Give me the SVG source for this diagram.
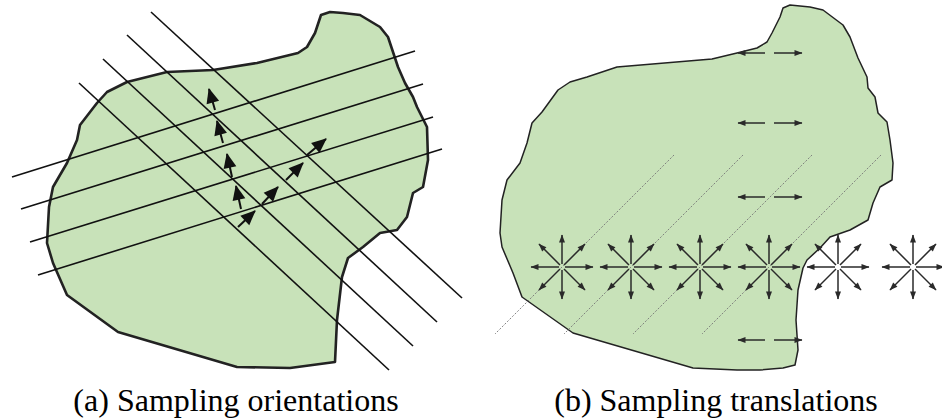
<svg xmlns="http://www.w3.org/2000/svg" width="942" height="420" viewBox="0 0 942 420">
<defs>
<style>
.blobA{fill:#c8e2b9;stroke:#222;stroke-width:2.6;stroke-linejoin:round}
.blobB{fill:#c8e2b9;stroke:#222;stroke-width:1.5;stroke-linejoin:round}
.ln{stroke:#111;stroke-width:1.6;fill:none}
.arA{stroke:#111;stroke-width:2;fill:none;marker-end:url(#hA)}
.dot{stroke:#777;stroke-width:0.9;stroke-dasharray:2 1.6;fill:none}
.ar{stroke:#2a2a2a;stroke-width:1.5;fill:none;marker-end:url(#hB)}
.cap{font-family:'Liberation Serif',serif;font-size:32px;fill:#000;text-anchor:middle}
</style>
<marker id="hA" markerWidth="16" markerHeight="14" refX="14" refY="6.5" markerUnits="userSpaceOnUse" orient="auto" overflow="visible"><path d="M0,0 L15,6.5 L0,13 z" fill="#111"/></marker>
<marker id="hB" markerWidth="9" markerHeight="7" refX="7.5" refY="3" markerUnits="userSpaceOnUse" orient="auto" overflow="visible"><path d="M0,0 L8,3 L0,6 z" fill="#2a2a2a"/></marker>
<g id="star"><line class="ar" x1="3" y1="0" x2="31" y2="0"/><line class="ar" x1="-3" y1="0" x2="-31" y2="0"/><line class="ar" x1="0" y1="-3" x2="0" y2="-32"/><line class="ar" x1="0" y1="3" x2="0" y2="32"/><line class="ar" x1="2" y1="-2" x2="23" y2="-23"/><line class="ar" x1="-2" y1="-2" x2="-23" y2="-23"/><line class="ar" x1="2" y1="2" x2="23" y2="23"/><line class="ar" x1="-2" y1="2" x2="-23" y2="23"/></g>
<g id="dbl"><line class="ar" x1="-5" y1="0" x2="-32" y2="0"/><line class="ar" x1="4" y1="0" x2="32" y2="0"/></g>
</defs>

<g id="panel-a">
<path id="blob-a" class="blobA" d="M330,12 L321,15 L315,33 L307,47 L298,53 L257,63 L213,70 L167,72 L127,82 L107,92 L97,103 L80,125 L77,140 L67,163 L53,187 L49,207 L47,243 L53,263 L67,295 L118,332 L237,367 L290,368 L335,362 L337,320 L342,277 L348,258 L363,247 L380,233 L397,230 L407,217 L413,193 L423,187 L428,160 L427,127 L417,107 L413,97 L405,83 L398,67 L388,37 L380,27 L360,15 L343,13 Z"/>
<g id="lines-a">
<line class="ln" x1="151" y1="12" x2="462" y2="298"/>
<line class="ln" x1="127" y1="35" x2="437" y2="322"/>
<line class="ln" x1="103" y1="59" x2="413" y2="346"/>
<line class="ln" x1="79" y1="83" x2="389" y2="370"/>
<line class="ln" x1="12" y1="177" x2="415" y2="51"/>
<line class="ln" x1="21" y1="209" x2="423" y2="84"/>
<line class="ln" x1="30" y1="242" x2="433" y2="117"/>
<line class="ln" x1="38" y1="275" x2="442" y2="149"/>
</g>
<g id="arrows-a">
<line class="arA" x1="215" y1="110" x2="209" y2="89"/>
<line class="arA" x1="223" y1="143" x2="217" y2="121"/>
<line class="arA" x1="232" y1="177" x2="227" y2="154"/>
<line class="arA" x1="241" y1="209" x2="236" y2="186"/>
<line class="arA" x1="238" y1="227" x2="255" y2="211"/>
<line class="arA" x1="262" y1="204" x2="278" y2="187"/>
<line class="arA" x1="286" y1="180" x2="303" y2="163"/>
<line class="arA" x1="307" y1="155" x2="326" y2="139"/>
</g>
<text class="cap" x="236" y="411">(a) Sampling orientations</text>
</g>

<g id="panel-b">
<path id="blob-b" class="blobB" d="M790,5 L810,7 L823,10 L843,25 L850,37 L858,58 L867,77 L868,88 L875,97 L878,113 L887,122 L890,140 L893,163 L892,180 L880,187 L873,203 L868,220 L850,230 L830,237 L820,248 L807,260 L803,268 L798,290 L796,320 L798,350 L795,365 L783,368 L760,370 L737,370 L693,368 L573,333 L522,297 L513,273 L502,247 L500,233 L502,200 L507,180 L520,163 L527,143 L532,123 L542,112 L558,90 L570,82 L587,77 L617,67 L712,59 L737,53 L757,48 L767,42 L772,33 L780,17 L783,8 Z"/>
<g id="dotted-b">
<line class="dot" x1="674" y1="155" x2="495" y2="334"/>
<line class="dot" x1="743" y1="155" x2="564" y2="334"/>
<line class="dot" x1="812" y1="155" x2="633" y2="334"/>
<line class="dot" x1="881" y1="155" x2="702" y2="334"/>
</g>
<g id="hpairs-b">
<use href="#dbl" x="770" y="53"/>
<use href="#dbl" x="770" y="123"/>
<use href="#dbl" x="770" y="197"/>
<use href="#dbl" x="770" y="340"/>
</g>
<g id="stars-b">
<use href="#star" x="562" y="267"/>
<use href="#star" x="631" y="267"/>
<use href="#star" x="700" y="267"/>
<use href="#star" x="769" y="267"/>
<use href="#star" x="838" y="267"/>
<use href="#star" x="913" y="267"/>
</g>
<text class="cap" x="716" y="411">(b) Sampling translations</text>
</g>
</svg>
